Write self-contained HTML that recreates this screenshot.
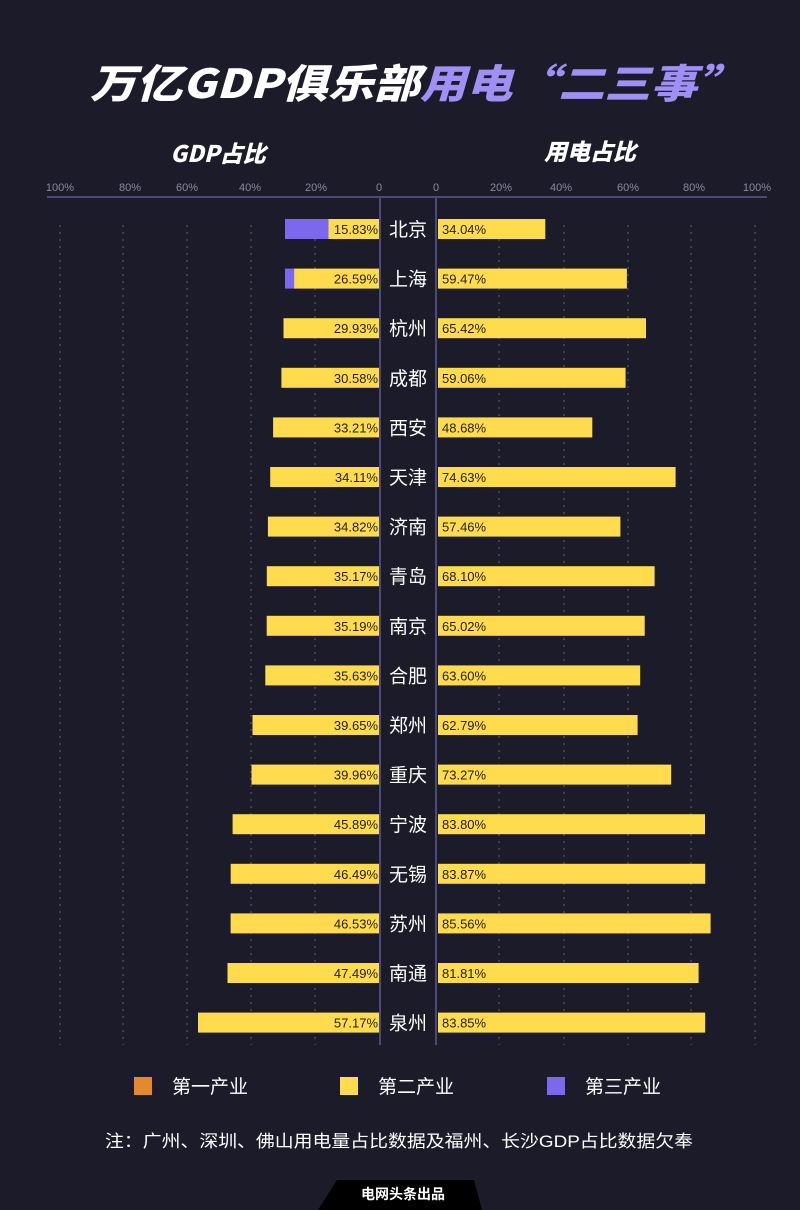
<!DOCTYPE html>
<html><head><meta charset="utf-8"><style>
html,body{margin:0;padding:0;background:#1b1b29;}
svg{display:block;font-family:"Liberation Sans","Noto Sans CJK SC",sans-serif;}
</style></head><body>
<svg width="800" height="1210" viewBox="0 0 800 1210" xmlns="http://www.w3.org/2000/svg">
<defs>
<g id="dummy"></g>
</defs>
<rect width="800" height="1210" fill="#1b1b29"/>
<text x="90" y="98" font-size="40" font-weight="900" font-style="italic" fill="#fff" textLength="653" lengthAdjust="spacingAndGlyphs" font-family="Noto Sans CJK SC, sans-serif">万亿GDP俱乐部<tspan fill="#a08ff4">用电“二三事”</tspan></text>
<text x="218" y="162" font-size="23" font-weight="900" font-style="italic" fill="#fff" text-anchor="middle" font-family="Noto Sans CJK SC, sans-serif">GDP占比</text>
<text x="590" y="160" font-size="23" font-weight="900" font-style="italic" fill="#fff" text-anchor="middle" font-family="Noto Sans CJK SC, sans-serif">用电占比</text>
<g font-size="11" fill="#8a8aa0" text-anchor="middle">
<text x="60" y="191">100%</text><text x="130" y="191">80%</text><text x="187" y="191">60%</text><text x="250" y="191">40%</text><text x="316" y="191">20%</text><text x="379" y="191">0</text>
<text x="436" y="191">0</text><text x="501" y="191">20%</text><text x="561" y="191">40%</text><text x="628" y="191">60%</text><text x="694" y="191">80%</text><text x="757" y="191">100%</text>
</g>
<line x1="47" y1="197" x2="767" y2="197" stroke="#4a4a72" stroke-width="2"/>
<g stroke="#4a4a5e" stroke-width="1.5" stroke-dasharray="2,5">
<line x1="60" y1="225" x2="60" y2="1045"/><line x1="123" y1="225" x2="123" y2="1045"/><line x1="187" y1="225" x2="187" y2="1045"/><line x1="251" y1="225" x2="251" y2="1045"/><line x1="315" y1="225" x2="315" y2="1045"/>
<line x1="499" y1="225" x2="499" y2="1045"/><line x1="564" y1="225" x2="564" y2="1045"/><line x1="628" y1="225" x2="628" y2="1045"/><line x1="691" y1="225" x2="691" y2="1045"/><line x1="755" y1="225" x2="755" y2="1045"/>
</g>
<line x1="380" y1="197" x2="380" y2="1045" stroke="#4a4a72" stroke-width="2"/>
<line x1="436" y1="197" x2="436" y2="1045" stroke="#4a4a72" stroke-width="2"/>

<g font-size="13">
<g transform="translate(0,229)"><rect x="285" y="-10" width="44" height="20" fill="#7b68ee"/><rect x="328.5" y="-10" width="50.5" height="20" fill="#ffdb4d"/><rect x="438" y="-10" width="107.3" height="20" fill="#ffdb4d"/><text x="378" y="5" text-anchor="end" fill="#222">15.83%</text><text x="442" y="5" fill="#222">34.04%</text><text x="408" y="7" text-anchor="middle" fill="#fff" font-size="19">北京</text></g>
<g transform="translate(0,278.6)"><rect x="285" y="-10" width="11" height="20" fill="#7b68ee"/><rect x="294.2" y="-10" width="84.8" height="20" fill="#ffdb4d"/><rect x="438" y="-10" width="188.9" height="20" fill="#ffdb4d"/><text x="378" y="5" text-anchor="end" fill="#222">26.59%</text><text x="442" y="5" fill="#222">59.47%</text><text x="408" y="7" text-anchor="middle" fill="#fff" font-size="19">上海</text></g>
<g transform="translate(0,328.2)"><rect x="283.5" y="-10" width="95.5" height="20" fill="#ffdb4d"/><rect x="438" y="-10" width="208" height="20" fill="#ffdb4d"/><text x="378" y="5" text-anchor="end" fill="#222">29.93%</text><text x="442" y="5" fill="#222">65.42%</text><text x="408" y="7" text-anchor="middle" fill="#fff" font-size="19">杭州</text></g>
<g transform="translate(0,377.8)"><rect x="281.4" y="-10" width="97.6" height="20" fill="#ffdb4d"/><rect x="438" y="-10" width="187.6" height="20" fill="#ffdb4d"/><text x="378" y="5" text-anchor="end" fill="#222">30.58%</text><text x="442" y="5" fill="#222">59.06%</text><text x="408" y="7" text-anchor="middle" fill="#fff" font-size="19">成都</text></g>
<g transform="translate(0,427.4)"><rect x="273.1" y="-10" width="105.9" height="20" fill="#ffdb4d"/><rect x="438" y="-10" width="154.3" height="20" fill="#ffdb4d"/><text x="378" y="5" text-anchor="end" fill="#222">33.21%</text><text x="442" y="5" fill="#222">48.68%</text><text x="408" y="7" text-anchor="middle" fill="#fff" font-size="19">西安</text></g>
<g transform="translate(0,477)"><rect x="270.2" y="-10" width="108.8" height="20" fill="#ffdb4d"/><rect x="438" y="-10" width="237.6" height="20" fill="#ffdb4d"/><text x="378" y="5" text-anchor="end" fill="#222">34.11%</text><text x="442" y="5" fill="#222">74.63%</text><text x="408" y="7" text-anchor="middle" fill="#fff" font-size="19">天津</text></g>
<g transform="translate(0,526.6)"><rect x="267.9" y="-10" width="111.1" height="20" fill="#ffdb4d"/><rect x="438" y="-10" width="182.4" height="20" fill="#ffdb4d"/><text x="378" y="5" text-anchor="end" fill="#222">34.82%</text><text x="442" y="5" fill="#222">57.46%</text><text x="408" y="7" text-anchor="middle" fill="#fff" font-size="19">济南</text></g>
<g transform="translate(0,576.2)"><rect x="266.8" y="-10" width="112.2" height="20" fill="#ffdb4d"/><rect x="438" y="-10" width="216.6" height="20" fill="#ffdb4d"/><text x="378" y="5" text-anchor="end" fill="#222">35.17%</text><text x="442" y="5" fill="#222">68.10%</text><text x="408" y="7" text-anchor="middle" fill="#fff" font-size="19">青岛</text></g>
<g transform="translate(0,625.8)"><rect x="266.7" y="-10" width="112.3" height="20" fill="#ffdb4d"/><rect x="438" y="-10" width="206.7" height="20" fill="#ffdb4d"/><text x="378" y="5" text-anchor="end" fill="#222">35.19%</text><text x="442" y="5" fill="#222">65.02%</text><text x="408" y="7" text-anchor="middle" fill="#fff" font-size="19">南京</text></g>
<g transform="translate(0,675.4)"><rect x="265.3" y="-10" width="113.7" height="20" fill="#ffdb4d"/><rect x="438" y="-10" width="202.2" height="20" fill="#ffdb4d"/><text x="378" y="5" text-anchor="end" fill="#222">35.63%</text><text x="442" y="5" fill="#222">63.60%</text><text x="408" y="7" text-anchor="middle" fill="#fff" font-size="19">合肥</text></g>
<g transform="translate(0,725)"><rect x="252.5" y="-10" width="126.5" height="20" fill="#ffdb4d"/><rect x="438" y="-10" width="199.6" height="20" fill="#ffdb4d"/><text x="378" y="5" text-anchor="end" fill="#222">39.65%</text><text x="442" y="5" fill="#222">62.79%</text><text x="408" y="7" text-anchor="middle" fill="#fff" font-size="19">郑州</text></g>
<g transform="translate(0,774.6)"><rect x="251.5" y="-10" width="127.5" height="20" fill="#ffdb4d"/><rect x="438" y="-10" width="233.2" height="20" fill="#ffdb4d"/><text x="378" y="5" text-anchor="end" fill="#222">39.96%</text><text x="442" y="5" fill="#222">73.27%</text><text x="408" y="7" text-anchor="middle" fill="#fff" font-size="19">重庆</text></g>
<g transform="translate(0,824.2)"><rect x="232.6" y="-10" width="146.4" height="20" fill="#ffdb4d"/><rect x="438" y="-10" width="267" height="20" fill="#ffdb4d"/><text x="378" y="5" text-anchor="end" fill="#222">45.89%</text><text x="442" y="5" fill="#222">83.80%</text><text x="408" y="7" text-anchor="middle" fill="#fff" font-size="19">宁波</text></g>
<g transform="translate(0,873.8)"><rect x="230.7" y="-10" width="148.3" height="20" fill="#ffdb4d"/><rect x="438" y="-10" width="267.2" height="20" fill="#ffdb4d"/><text x="378" y="5" text-anchor="end" fill="#222">46.49%</text><text x="442" y="5" fill="#222">83.87%</text><text x="408" y="7" text-anchor="middle" fill="#fff" font-size="19">无锡</text></g>
<g transform="translate(0,923.4)"><rect x="230.6" y="-10" width="148.4" height="20" fill="#ffdb4d"/><rect x="438" y="-10" width="272.6" height="20" fill="#ffdb4d"/><text x="378" y="5" text-anchor="end" fill="#222">46.53%</text><text x="442" y="5" fill="#222">85.56%</text><text x="408" y="7" text-anchor="middle" fill="#fff" font-size="19">苏州</text></g>
<g transform="translate(0,973)"><rect x="227.5" y="-10" width="151.5" height="20" fill="#ffdb4d"/><rect x="438" y="-10" width="260.6" height="20" fill="#ffdb4d"/><text x="378" y="5" text-anchor="end" fill="#222">47.49%</text><text x="442" y="5" fill="#222">81.81%</text><text x="408" y="7" text-anchor="middle" fill="#fff" font-size="19">南通</text></g>
<g transform="translate(0,1022.6)"><rect x="198" y="-10" width="181" height="20" fill="#ffdb4d"/><rect x="438" y="-10" width="267.2" height="20" fill="#ffdb4d"/><text x="378" y="5" text-anchor="end" fill="#222">57.17%</text><text x="442" y="5" fill="#222">83.85%</text><text x="408" y="7" text-anchor="middle" fill="#fff" font-size="19">泉州</text></g>
</g>

<rect x="134" y="1077" width="18" height="18" fill="#e38a2e"/>
<rect x="340" y="1077" width="18" height="18" fill="#ffdb4d"/>
<rect x="547" y="1077" width="18" height="18" fill="#7b68ee"/>
<g font-size="19" fill="#fff"><text x="172" y="1093">第一产业</text><text x="378" y="1093">第二产业</text><text x="585" y="1093">第三产业</text></g>
<text x="105" y="1147" font-size="17" fill="#fff" textLength="588" lengthAdjust="spacingAndGlyphs">注：广州、深圳、佛山用电量占比数据及福州、长沙GDP占比数据欠奉</text>
<polygon points="337,1180 474,1180 482,1210 318,1210" fill="#000"/>
<text x="403" y="1199" font-size="14" font-weight="bold" fill="#fff" text-anchor="middle">电网头条出品</text>
</svg>
</body></html>
